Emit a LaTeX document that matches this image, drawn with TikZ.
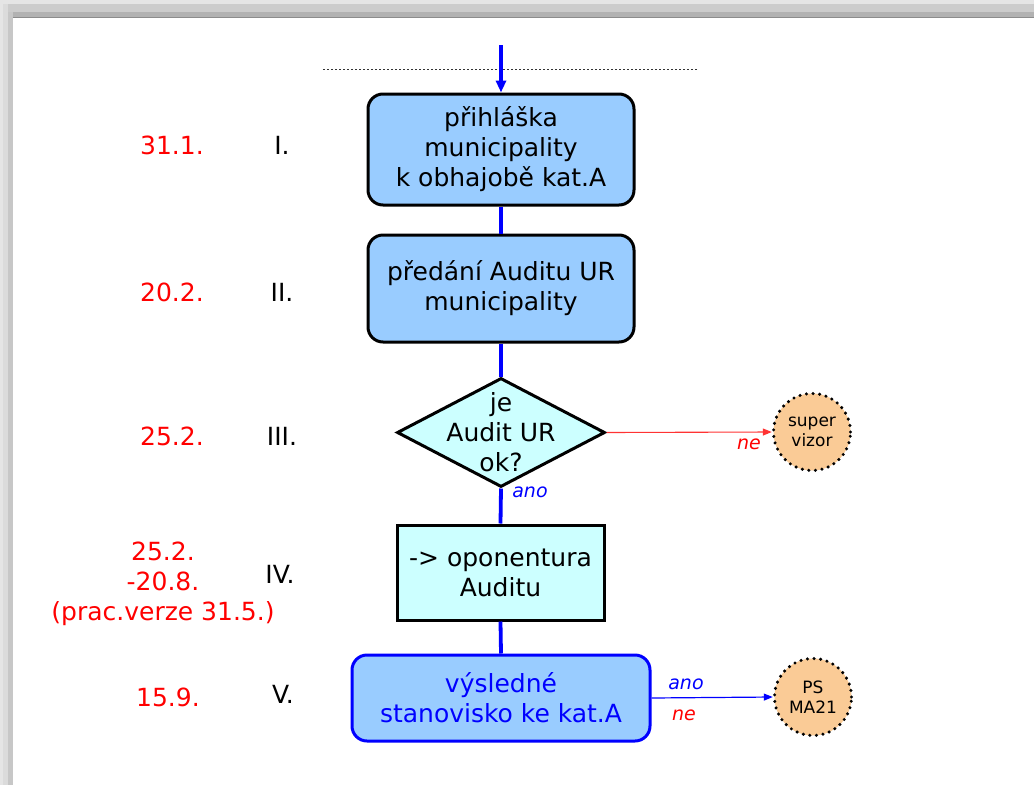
\documentclass[tikz,border=0pt]{standalone}
\usepackage{fontspec}
\setmainfont{DejaVu Sans}
\usetikzlibrary{shapes.geometric,arrows.meta}
\definecolor{boxblue}{HTML}{99CCFF}
\definecolor{boxcyan}{HTML}{CCFFFF}
\definecolor{peach}{HTML}{FACB96}
\definecolor{myblue}{HTML}{0000FF}
\definecolor{myred}{HTML}{FF0000}
\tikzset{
  main/.style={font=\fontsize{25}{30}\selectfont, align=center, inner sep=0pt},
  roundbox/.style={main, draw=black, line width=3pt, fill=boxblue, rounded corners=15pt},
  squarebox/.style={main, draw=black, line width=3pt, fill=boxcyan},
  decision/.style={diamond, draw=black, line width=3pt, fill=boxcyan, inner sep=0pt},
  extnode/.style={circle, fill=peach, draw=black, line width=3.4pt, dash pattern=on 0pt off 6.6pt, line cap=round,
     minimum size=77pt, inner sep=0pt, align=center, font=\fontsize{17}{20}\selectfont},
  flow/.style={draw=myblue, line width=3.8pt},
  datelbl/.style={text=myred, font=\fontsize{25}{30}\selectfont, align=center},
  steplbl/.style={font=\fontsize{25}{30}\selectfont},
  yeslbl/.style={text=myblue, font=\fontsize{19}{22}\selectfont\itshape, inner sep=0pt},
  nolbl/.style={text=myred, font=\fontsize{19}{22}\selectfont\itshape, inner sep=0pt},
}
\begin{document}
\begin{tikzpicture}[x=1pt,y=-1pt]
\useasboundingbox (0,0) rectangle (1034,785);
% slide frame
\fill[black!10] (0,0) rectangle (1034,18);
\fill[black!20] (3,4) rectangle (1034,18);
\fill[black!30] (8,12) rectangle (1034,17);
\draw[black!45, line width=0.8pt] (13,17.5) -- (1034,17.5);
\fill[black!10] (0,0) rectangle (3,785);
\fill[black!14] (3,4) rectangle (8,785);
\fill[black!22] (8,12) rectangle (13,785);

% dotted separator
\draw[black!80, line width=0.8pt, dash pattern=on 2pt off 2pt] (323,69) -- (698,69);

% nodes
\node[roundbox, minimum width=266pt, minimum height=111pt] (b1) at (501,149.5)
  {přihláška\\municipality\\k obhajobě kat.A};
\node[roundbox, minimum width=266pt, minimum height=107pt] (b2) at (501,288.5)
  {předání Auditu UR\\municipality};
\node[decision, minimum width=208pt, minimum height=109pt,
  label={[main]center:je\\Audit UR\\ok?}] (d3) at (501,432.5) {};
\node[squarebox, minimum width=207pt, minimum height=95pt] (b4) at (500.5,572.5)
  {-> oponentura\\Auditu};
\node[roundbox, draw=myblue, text=myblue, minimum width=298pt, minimum height=86pt] (b5) at (501,698)
  {výsledné\\stanovisko ke kat.A};
\node[extnode] (sv) at (812,432) {super\\vizor};
\node[extnode] (ps) at (813,697) {PS\\MA21};

\coordinate (start) at (501,45);

% connectors
\draw[flow, -{Triangle[length=12pt,width=10pt]}] (start) -- (b1.north);
\draw[flow] (b1.south) -- (b2.north);
\draw[flow] (b2.south) -- (d3.north);
\draw[flow] (d3.south) -- (b4.north);
\draw[flow] (b4.south) -- (b5.north);
\draw[draw=myred!80, line width=1.1pt, -{Triangle[length=9pt,width=7pt]}] (d3.east) -- (sv.west);
\draw[draw=myblue, line width=1.2pt, -{Triangle[length=9pt,width=7pt]}] (b5.east) -- (ps.west);

% branch labels
\node[nolbl] (ne1) at (749,444) {ne};
\node[yeslbl] (ano1) at (530,492) {ano};
\node[yeslbl] (ano2) at (686,684) {ano};
\node[nolbl] (ne2) at (684,715) {ne};

% left labels
\node[datelbl] (t1) at (172,145) {31.1.};
\node[steplbl] (s1) at (282,145) {I.};
\node[datelbl] (t2) at (172,292) {20.2.};
\node[steplbl] (s2) at (282,292) {II.};
\node[datelbl] (t3) at (172,436) {25.2.};
\node[steplbl] (s3) at (282,436) {III.};
\node[datelbl] (t4) at (163,584) {25.2.\\-20.8.\\(prac.verze 31.5.)};
\node[steplbl] (s4) at (280,574) {IV.};
\node[datelbl] (t5) at (168,697) {15.9.};
\node[steplbl] (s5) at (283,694) {V.};
\end{tikzpicture}
\end{document}
